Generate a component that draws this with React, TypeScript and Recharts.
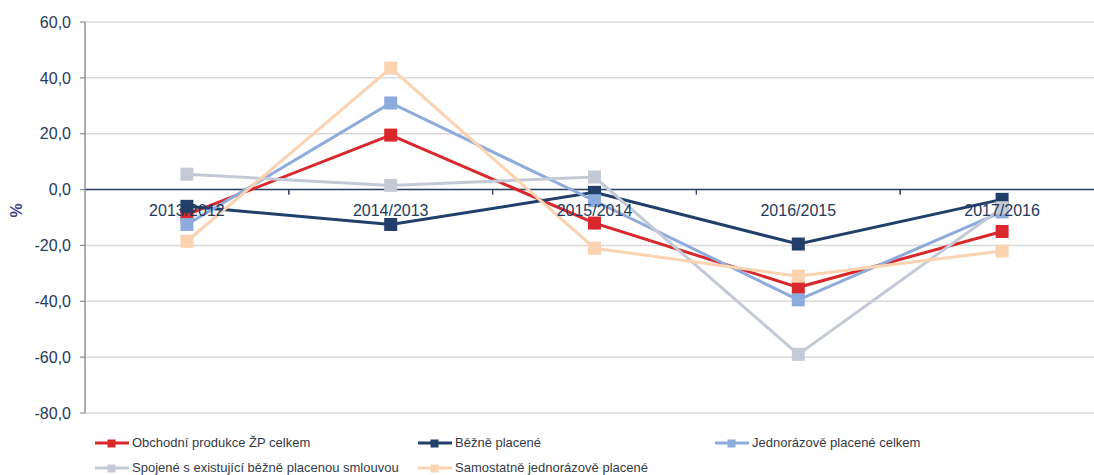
import React from 'react';
import {
  LineChart,
  Line,
  XAxis,
  YAxis,
  CartesianGrid,
  ReferenceLine,
  Legend,
} from 'recharts';

// Year-on-year change in life insurance new business, in %
const periods = ['2013/2012', '2014/2013', '2015/2014', '2016/2015', '2017/2016'];
const obchodniCelkem = [-9, 19.5, -12, -35, -15];
const beznePlacene = [-6, -12.5, -1, -19.5, -3.5];
const jednorazoveCelkem = [-12.5, 31, -4, -39.5, -8];
const spojeneSmlouvou = [5.5, 1.5, 4.5, -59, -6.5];
const samostatneJednorazove = [-18.5, 43.5, -21, -31, -22];
const yTicks = [60, 40, 20, 0, -20, -40, -60, -80];

const series = [
  { key: 'obchodni', name: 'Obchodní produkce ŽP celkem', color: '#d8282c', values: obchodniCelkem },
  { key: 'bezne', name: 'Běžně placené', color: '#213f69', values: beznePlacene },
  { key: 'jednorazove', name: 'Jednorázově placené celkem', color: '#8eabdd', values: jednorazoveCelkem },
  { key: 'spojene', name: 'Spojené s existující běžně placenou smlouvou', color: '#c3cad6', values: spojeneSmlouvou },
  { key: 'samostatne', name: 'Samostatně jednorázově placené', color: '#fbd3b0', values: samostatneJednorazove },
];

const data = periods.map((period, i) => {
  const row: Record<string, string | number> = { period };
  series.forEach((s) => {
    row[s.key] = s.values[i];
  });
  return row;
});

const CHART_W = 1110;
const CHART_H = 475;
const MARGIN = { top: 22, right: 6, left: 0, bottom: 15 };
const Y_AXIS_W = 85;
const X_AXIS_H = 2;
const LEGEND_H = 45;
const Y_MIN = -80;
const Y_MAX = 60;
const PLOT_H = CHART_H - MARGIN.top - MARGIN.bottom - X_AXIS_H - LEGEND_H;
const PLOT_W = CHART_W - MARGIN.left - MARGIN.right - Y_AXIS_W;
const BAND = PLOT_W / periods.length;
const ZERO_Y = MARGIN.top + (PLOT_H * Y_MAX) / (Y_MAX - Y_MIN);

const FONT = '"Liberation Sans", Arial, sans-serif';
const TEXT_COLOR = '#233a5c';

const fmt = (v: number) => v.toFixed(1).replace('.', ',');

// Category labels sit just under the zero line, with boundary tick marks on it
const PeriodTick = (props: any) => {
  const { x, index, payload } = props;
  return (
    <g>
      {index > 0 && (
        <line x1={x - BAND / 2} x2={x - BAND / 2} y1={ZERO_Y} y2={ZERO_Y + 5} stroke="#2e4468" strokeWidth={1.2} />
      )}
      <line x1={x + BAND / 2} x2={x + BAND / 2} y1={ZERO_Y} y2={ZERO_Y + 5} stroke="#2e4468" strokeWidth={1.2} />
      <text x={x} y={ZERO_Y + 26} textAnchor="middle" fill={TEXT_COLOR} fontSize={16} fontFamily={FONT}>
        {payload.value}
      </text>
    </g>
  );
};

const SquareDot = (color: string) => (props: any) => {
  const { cx, cy } = props;
  if (cx == null || cy == null) return null;
  return <rect x={cx - 6.5} y={cy - 6.5} width={13} height={13} fill={color} />;
};

const legendRows = [
  [series[0], series[1], series[2]],
  [series[3], series[4]],
];
const legendCols = [95, 418, 715];

const LegendContent = () => (
  <div style={{ position: 'relative', height: LEGEND_H, fontFamily: FONT }}>
    {legendRows.map((row, r) =>
      row.map((s, c) => (
        <div
          key={s.key}
          style={{
            position: 'absolute',
            left: legendCols[c],
            top: 20 + r * 25,
            display: 'flex',
            alignItems: 'center',
            whiteSpace: 'nowrap',
          }}
        >
          <svg width={34} height={12} style={{ marginRight: 3 }}>
            <line x1={0} x2={34} y1={6} y2={6} stroke={s.color} strokeWidth={3} />
            <rect x={12.5} y={2.5} width={8} height={8} fill={s.color} />
          </svg>
          <span style={{ fontSize: 13, color: '#333a47' }}>{s.name}</span>
        </div>
      ))
    )}
  </div>
);

export default function App() {
  return (
    <div style={{ position: 'absolute', left: 0, top: 0, width: 1094, height: 475, overflow: 'hidden', background: '#fff' }}>
      <LineChart width={CHART_W} height={CHART_H} data={data} margin={MARGIN}>
        <CartesianGrid horizontal vertical={false} stroke="#d9d9d9" strokeWidth={1.5} />
        <XAxis
          dataKey="period"
          scale="band"
          height={X_AXIS_H}
          axisLine={false}
          tickLine={false}
          tick={<PeriodTick />}
          interval={0}
        />
        <YAxis
          width={Y_AXIS_W}
          domain={[Y_MIN, Y_MAX]}
          ticks={yTicks}
          interval={0}
          tickFormatter={fmt}
          tick={{ fill: TEXT_COLOR, fontSize: 16, fontFamily: FONT }}
          tickSize={5}
          tickMargin={9}
          axisLine={{ stroke: '#8a8f99', strokeWidth: 1.5 }}
          tickLine={{ stroke: '#8a8f99', strokeWidth: 1.2 }}
          label={{
            value: '%',
            angle: -90,
            position: 'insideLeft',
            offset: 16,
            fill: '#3a3d93',
            fontSize: 16,
            fontWeight: 'bold',
            fontFamily: FONT,
          }}
        />
        <ReferenceLine y={0} stroke="#2e4468" strokeWidth={1.5} />
        <Legend
          verticalAlign="bottom"
          height={LEGEND_H}
          content={<LegendContent />}
        />
        {series.map((s) => (
          <Line
            key={s.key}
            type="linear"
            dataKey={s.key}
            name={s.name}
            stroke={s.color}
            strokeWidth={3}
            dot={SquareDot(s.color)}
            activeDot={false}
            isAnimationActive={false}
          />
        ))}
      </LineChart>
    </div>
  );
}
